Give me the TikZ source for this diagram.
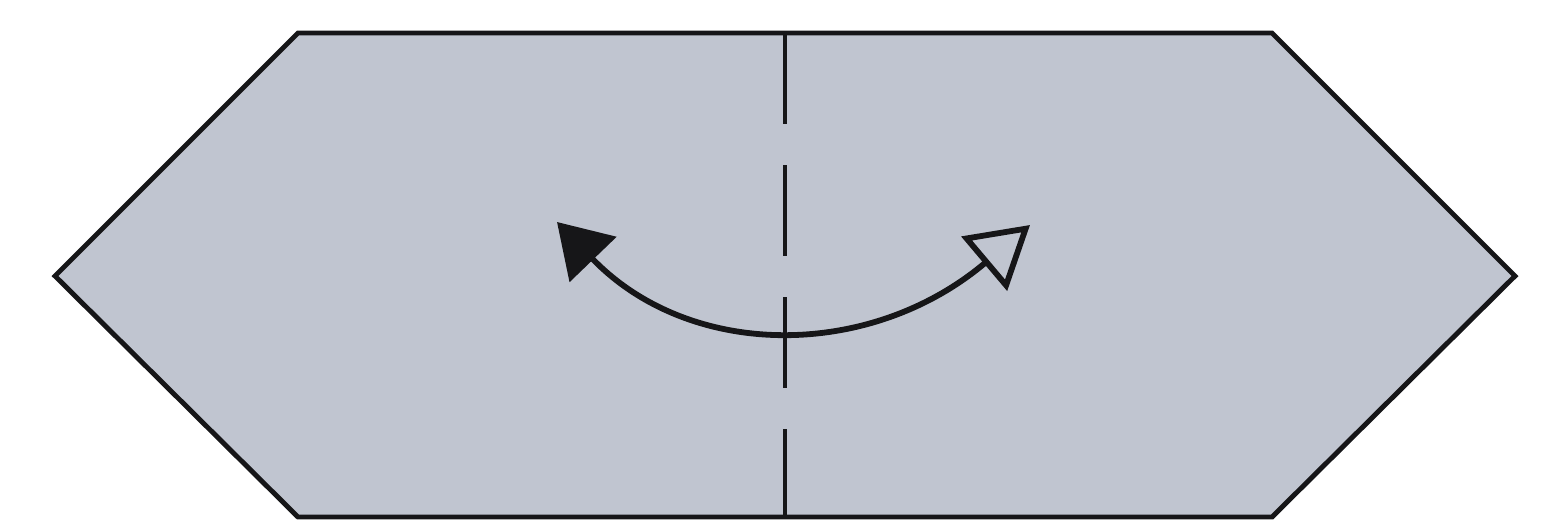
\documentclass[tikz,border=0pt]{standalone}
\usetikzlibrary{arrows.meta}
\definecolor{paper}{RGB}{192,197,208}
\definecolor{ink}{RGB}{22,22,24}
\tikzset{
  sheet/.style={fill=paper, draw=ink, line width=1.4pt, line join=miter},
  foldline/.style={draw=ink, line width=1.4pt, dash pattern=on 0.91cm off 0.41cm},
  turnarrow/.style={draw=ink, line width=1.65pt,
    {Triangle[length=0.52cm,width=0.64cm]}-{Triangle[open,length=0.6cm,width=0.7cm]}}
}
\begin{document}
\begin{tikzpicture}[x=0.01cm,y=-0.01cm]
\useasboundingbox (0,0) rectangle (1545,520);
\path[sheet] (298,33) -- (1272,33) -- (1515,276) -- (1272,517) -- (298,517) -- (55,276) -- cycle;
\coordinate (ftop) at (785,33);
\coordinate (fbot) at (785,517);
\draw[foldline] (ftop) -- (fbot);
\coordinate (ltip) at (557,222);
\coordinate (rtip) at (1030,225);
\draw[turnarrow] (ltip) .. controls (690,360) and (870,360) .. (rtip);
\end{tikzpicture}
\end{document}
